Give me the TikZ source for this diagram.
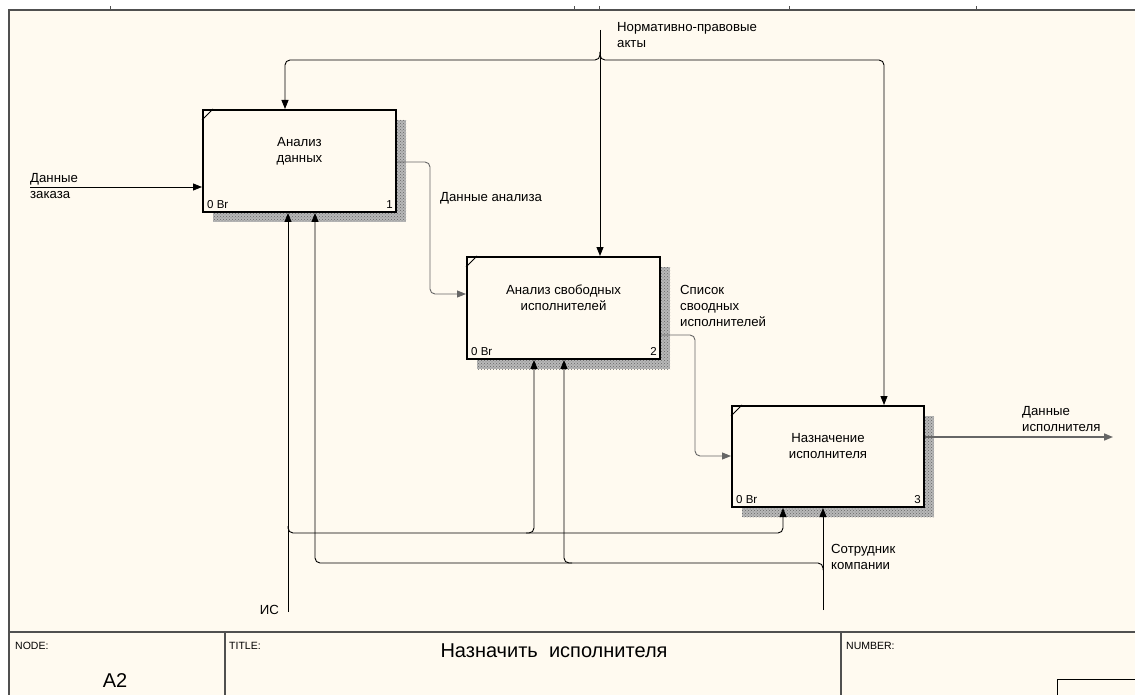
\documentclass[tikz,border=0pt]{standalone}
\usepackage{fontspec}
\setmainfont{Liberation Sans}
\usetikzlibrary{arrows.meta,patterns}
\definecolor{paper}{HTML}{FFFAF0}
\definecolor{frameline}{HTML}{505050}
\begin{document}
\begin{tikzpicture}[x=1pt,y=-1pt,
  ar/.style={line width=0.9pt, -{Triangle[length=9pt,width=7pt]}},
  flow/.style={ar, draw=black!60, rounded corners=5pt},
  ctl/.style={ar, rounded corners=5pt},
  actbox/.style={draw=black, line width=2pt, fill=paper, minimum width=193pt, minimum height=102pt, inner sep=0pt},
  shade/.style={fill=black!28, postaction={pattern=crosshatch dots, pattern color=black!60}},
  boxtext/.style={font=\fontsize{13.2}{16}\selectfont, align=center, inner sep=0pt},
  lbl/.style={font=\fontsize{13.2}{16}\selectfont, align=left, inner sep=0pt, anchor=west},
  small/.style={font=\fontsize{11.5}{12}\selectfont, inner sep=0pt},
  tiny/.style={font=\fontsize{10.5}{10}\selectfont, inner sep=0pt, anchor=west}]
\useasboundingbox (0,0) rectangle (1135,695);
% sheet and frame
\fill[white] (0,0) rectangle (1135,695);
\fill[paper] (9,10) rectangle (1135,695);
\draw[frameline, line width=2pt] (9,695) -- (9,10) -- (1135,10);
\foreach \t in {110,574,599,789,976} \draw[frameline, line width=0.8pt] (\t,6.5) -- (\t,10);

% shadows of the activity boxes
\fill[shade] (213,120) rectangle (406,222);
\fill[shade] (477,267) rectangle (670,369);
\fill[shade] (742,416) rectangle (934,517);

% activity boxes
\node[actbox] (b1) at (299.5,161) {};
\node[actbox] (b2) at (563.5,308) {};
\node[actbox, minimum width=192pt, minimum height=101pt] (b3) at (828,456.5) {};
\foreach \b/\n in {b1/1,b2/2,b3/3}{
  \draw[line width=1pt] ([yshift=-11pt]\b.north west) -- ([xshift=11pt]\b.north west);
  \node[small, anchor=south west] (\b br) at ([xshift=5pt,yshift=4pt]\b.south west) {0 Br};
  \node[small, anchor=south east] (\b n) at ([xshift=-4pt,yshift=4pt]\b.south east) {\n};
}
\node[boxtext] (b1t) at (299.5,151) {Анализ\\данных};
\node[boxtext] (b2t) at (563.5,298) {Анализ свободных\\исполнителей};
\node[boxtext] (b3t) at (828,446) {Назначение\\исполнителя};

% input
\coordinate (ord) at (30,187);
\draw[ar] (ord) -- (ord -| b1.west);
\node[lbl] (ordl) at (30,186) {Данные\\заказа};

% flows between activities
\draw[flow] (b1.east |- 0,162) -| (430,294) -- (b2.west |- 0,294);
\node[lbl] (l12) at (440,198) {Данные анализа};
\draw[flow] (b2.east |- 0,335) -| (695,456) -- (b3.west |- 0,456);
\node[lbl] (l23) at (680,306) {Список\\своодных\\исполнителей};
\coordinate (out) at (1113,437);
\draw[ar, draw=black!60, line width=1.6pt] (b3.east |- out) -- (out);
\node[lbl] (outl) at (1022,419) {Данные\\исполнителя};

% control
\coordinate (law) at (600,30);
\draw[ar] (law) -- (law |- b2.north);
\draw[ctl] (600,52) |- (285,60) -- (285,0 |- b1.north);
\draw[ctl] (600,52) |- (884,60) -- (884,0 |- b3.north);
\node[lbl] (lawl) at (617,35) {Нормативно-правовые\\акты};

% mechanisms
\coordinate (is) at (288,612);
\draw[ar] (is) -- (is |- b1.south);
\draw[ctl] (288,526) |- (783,533) -- (783,0 |- b3.south);
\draw[ctl] (526,533) -| (534,0 |- b2.south);
\node[lbl, anchor=east] (isl) at (279,610) {ИС};

\coordinate (emp) at (823,610);
\draw[ar] (emp) -- (emp |- b3.south);
\draw[ctl] (823,570) |- (315,563) -- (315,0 |- b1.south);
\draw[ctl] (572,563) -| (564,0 |- b2.south);
\node[lbl] (empl) at (831,557) {Сотрудник\\компании};

% title block
\draw[frameline, line width=1.6pt] (9,632) -- (1135,632);
\draw[frameline, line width=1.2pt] (225,632) -- (225,695) (841,632) -- (841,695);
\draw[black, line width=1pt] (1057,695) -- (1057,679) -- (1135,679);
\node[tiny] (nodel) at (15,646) {NODE:};
\node[tiny] (titlel) at (229,646) {TITLE:};
\node[tiny] (numl) at (846,646) {NUMBER:};
\node[font=\fontsize{20}{20}\selectfont, inner sep=0pt] (title) at (554,651) {Назначить\ \ исполнителя};
\node[font=\fontsize{20}{20}\selectfont, inner sep=0pt] (nodeid) at (115,681) {A2};
\end{tikzpicture}
\end{document}
